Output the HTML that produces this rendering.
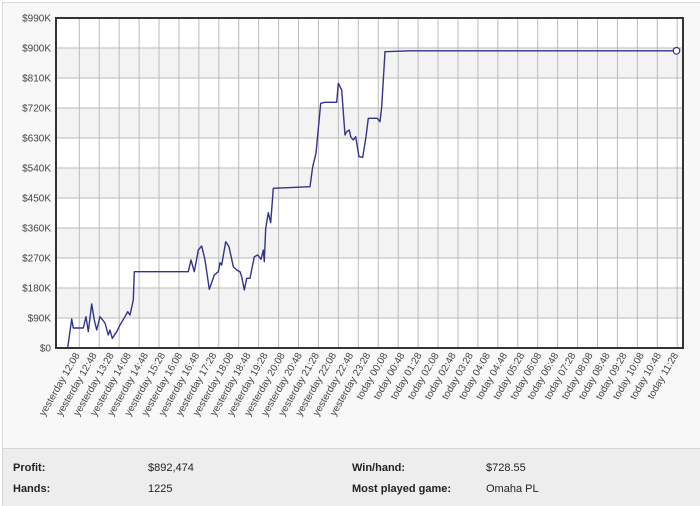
<!DOCTYPE html>
<html><head><meta charset="utf-8"><style>
html,body{margin:0;padding:0;background:#fff;}
body{width:700px;height:506px;overflow:hidden;font-family:"Liberation Sans",sans-serif;}
</style></head><body>
<svg width="700" height="506" xmlns="http://www.w3.org/2000/svg" style="display:block">
<rect x="0" y="0" width="700" height="506" fill="#ffffff"/>
<rect x="2.5" y="2.5" width="700" height="446" fill="#f8f8f8" stroke="#dcdcdc"/>
<rect x="2.5" y="448.5" width="700" height="60" fill="#ededed" stroke="#d6d6d6"/>
<g id="bands"></g>
<g id="grid"></g>
<rect x="56" y="18" width="627" height="330" fill="none" stroke="#333" stroke-width="2"/>
<polyline fill="none" stroke="#33338a" stroke-width="1.4" stroke-linejoin="round" points="67.7,347.7 71.7,319 73.3,328 83.3,328 86,316.7 88.3,331.7 91.7,304 94.3,320 96.7,330 100,316.7 105,323 108.3,335 110,330 112.3,338.3 116.7,331.7 120,325 125,316.7 127.7,311.7 130,315 133.3,300 134.3,271.7 188.3,271.7 191,260 194.3,271.7 198.3,250 201.7,246 205,260 209.3,289.3 214.3,275 218.3,271.7 220,262.7 221.7,265 225.7,241.7 229,246.7 233.3,266.7 236.7,270 240,271.7 241.7,276.7 244.3,290 246.7,278.3 250,278.3 254.3,256.7 257.7,255 261,259.3 263.3,250 264.3,261.7 265.7,228.3 266,226.7 268.3,212.7 270.7,222.7 273.3,188.3 310,186.7 312.7,166.7 316,153.3 320.7,103.3 325,102.3 336.7,102.3 338.3,83.3 341.7,90 345,135 346.7,131.7 349.3,130 350.7,136.7 353.3,140 355.7,136.7 359,156.7 362.7,157.3 366,136.7 368.3,118.3 377.3,118.3 380,121.7 381.7,106.7 385,51.7 410,50.8 676.5,50.8"/>
<circle cx="676.5" cy="50.8" r="3.3" fill="#fff" stroke="#33338a" stroke-width="1.2"/>
<g id="ylab" font-size="10" fill="#444" text-anchor="end"></g>
<g id="xlab" font-size="10" fill="#444" text-anchor="end"></g>
<g font-size="11" fill="#222">
<text x="13" y="471" font-weight="bold">Profit:</text>
<text x="13" y="492" font-weight="bold">Hands:</text>
<text x="148" y="471">$892,474</text>
<text x="148" y="492">1225</text>
<text x="352" y="471" font-weight="bold">Win/hand:</text>
<text x="352" y="492" font-weight="bold">Most played game:</text>
<text x="486" y="471">$728.55</text>
<text x="486" y="492">Omaha PL</text>
</g>
</svg>
<script>
var ns="http://www.w3.org/2000/svg";
function el(p,t,a,txt){var e=document.createElementNS(ns,t);for(var k in a)e.setAttribute(k,a[k]);if(txt)e.textContent=txt;document.getElementById(p).appendChild(e);}
for(var i=0;i<11;i++){el("bands","rect",{x:56,y:18+i*30,width:627,height:30,fill:i%2?"#f3f3f3":"#ffffff"});}
for(var i=1;i<11;i++){el("grid","line",{x1:56,x2:683,y1:18+i*30,y2:18+i*30,stroke:"#bbb","stroke-width":1});}
for(var k=0;k<31;k++){var x=79.3+k*19.93;el("grid","line",{x1:x,x2:x,y1:18,y2:348,stroke:"#bbb","stroke-width":1});}
for(var i=0;i<12;i++){var v=i*90;el("ylab","text",{x:51,y:351.5-i*30},v==0?"$0":"$"+v+"K");}
var labs=[];var h=12,m=8;
for(var i=0;i<36;i++){var hh=h%24;var pre=i<18?"yesterday ":"today ";labs.push(pre+(hh<10?"0"+hh:hh)+":"+(m<10?"0"+m:m));m+=40;if(m>=60){m-=60;h++;}}
labs[0]="yesterday 12:08";
for(var i=0;i<36;i++){var x=80+i*17.1;var y=355;el("xlab","text",{x:x,y:y,transform:"rotate(-60 "+x+" "+y+")"},labs[i]);}
</script>
</body></html>
